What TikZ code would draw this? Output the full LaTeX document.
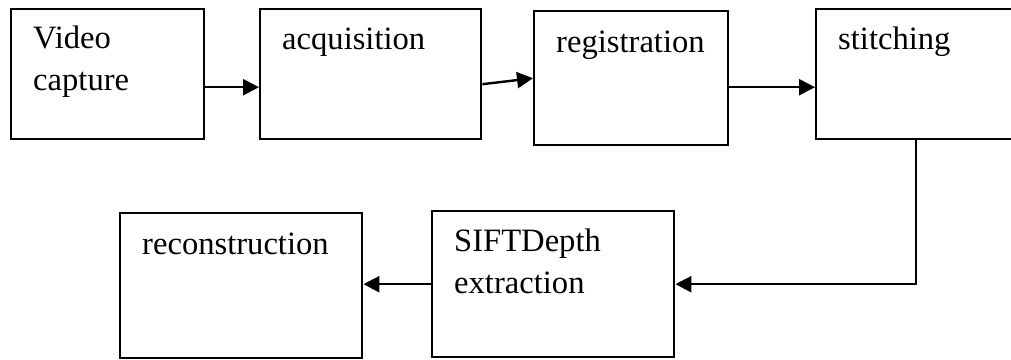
\documentclass[tikz,border=0pt]{standalone}
\usepackage{fontspec}
\setmainfont{Liberation Serif}
\usetikzlibrary{positioning, arrows.meta}

\begin{document}
\begin{tikzpicture}[x=0.5pt, y=-0.5pt,
  stage/.style n args={3}{draw, line width=1.2pt, anchor=north west, inner xsep=11pt, inner ysep=0pt, align=left, text width=#1, text height=#2, text depth=#3, font=\fontsize{16.3}{21}\selectfont},
  flow/.style={-{Triangle[length=8pt, width=8pt]}, line width=1.2pt}]
\useasboundingbox (0,0) rectangle (1011,359);
\clip (0,0) rectangle (1011,359);
\node[stage={74.5pt}{19.5pt}{45.5pt}] at (10,8) (video) {Video\\capture};
\node[stage={88.5pt}{20pt}{45pt}] at (259,8) (acq) {acquisition};
\node[stage={75pt}{20.5pt}{46.5pt}] at (533,10) (reg) {registration};
\node[stage={77.5pt}{20pt}{45pt}] at (815,8) (stitch) {stitching};
\node[stage={99pt}{20.5pt}{52pt}] at (119,212) (recon) {reconstruction};
\node[stage={99pt}{20pt}{53pt}] at (431,210) (sift) {SIFTDepth\\extraction};
\draw[flow] ([yshift=-6.5pt]video.east) -- ([yshift=-6.5pt]acq.west);
\draw[flow] ([yshift=-5pt]acq.east) -- (reg.west);
\draw[flow] ([yshift=-4.5pt]reg.east) -- ([yshift=-6.5pt]stitch.west);
\draw[flow] (stitch.south) |- (sift.east);
\draw[flow] (sift.west) -- (sift.west -| recon.east);
\end{tikzpicture}
\end{document}
